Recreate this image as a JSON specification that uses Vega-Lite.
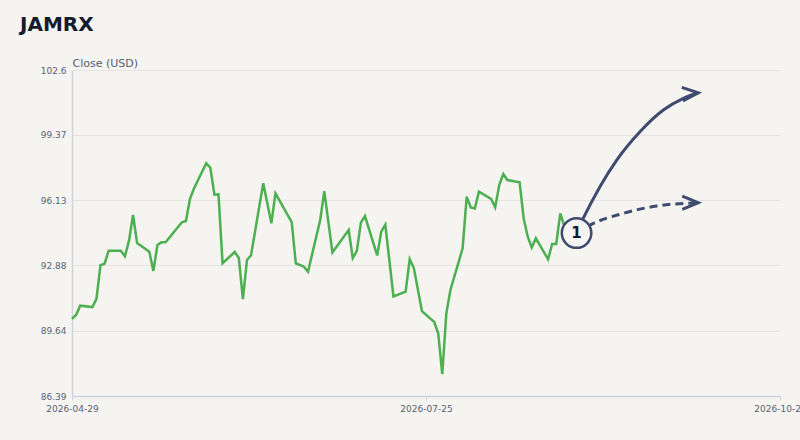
{
  "$schema": "https://vega.github.io/schema/vega-lite/v6.json",
  "width": 708,
  "height": 326,
  "autosize": {"type": "none"},
  "padding": {"left": 72, "top": 70, "right": 20, "bottom": 44},
  "background": "#f5f4f0",
  "title": {
    "text": "JAMRX",
    "anchor": "start",
    "frame": "group",
    "dx": -52,
    "offset": 22,
    "font": "DejaVu Sans",
    "fontSize": 20,
    "fontWeight": "bold",
    "color": "#141b2d"
  },
  "config": {
    "view": {"stroke": null},
    "font": "DejaVu Sans"
  },
  "datasets": {
    "prices": [
      {"date": "2026-04-29", "value": 90.22},
      {"date": "2026-04-30", "value": 90.42},
      {"date": "2026-05-01", "value": 90.88},
      {"date": "2026-05-04", "value": 90.81},
      {"date": "2026-05-05", "value": 91.21},
      {"date": "2026-05-06", "value": 92.90},
      {"date": "2026-05-07", "value": 92.97},
      {"date": "2026-05-08", "value": 93.61},
      {"date": "2026-05-11", "value": 93.61},
      {"date": "2026-05-12", "value": 93.34},
      {"date": "2026-05-13", "value": 94.10},
      {"date": "2026-05-14", "value": 95.39},
      {"date": "2026-05-15", "value": 94.00},
      {"date": "2026-05-18", "value": 93.56},
      {"date": "2026-05-19", "value": 92.61},
      {"date": "2026-05-20", "value": 93.90},
      {"date": "2026-05-21", "value": 94.03},
      {"date": "2026-05-22", "value": 94.03},
      {"date": "2026-05-26", "value": 95.03},
      {"date": "2026-05-27", "value": 95.09},
      {"date": "2026-05-28", "value": 96.19},
      {"date": "2026-05-29", "value": 96.72},
      {"date": "2026-06-01", "value": 97.96},
      {"date": "2026-06-02", "value": 97.74},
      {"date": "2026-06-03", "value": 96.40},
      {"date": "2026-06-04", "value": 96.42},
      {"date": "2026-06-05", "value": 92.99},
      {"date": "2026-06-08", "value": 93.55},
      {"date": "2026-06-09", "value": 93.25},
      {"date": "2026-06-10", "value": 91.21},
      {"date": "2026-06-11", "value": 93.15},
      {"date": "2026-06-12", "value": 93.39},
      {"date": "2026-06-15", "value": 96.97},
      {"date": "2026-06-17", "value": 94.98},
      {"date": "2026-06-18", "value": 96.47},
      {"date": "2026-06-22", "value": 95.03},
      {"date": "2026-06-23", "value": 92.99},
      {"date": "2026-06-25", "value": 92.82},
      {"date": "2026-06-26", "value": 92.57},
      {"date": "2026-06-29", "value": 95.14},
      {"date": "2026-06-30", "value": 96.58},
      {"date": "2026-07-02", "value": 93.53},
      {"date": "2026-07-06", "value": 94.64},
      {"date": "2026-07-07", "value": 93.25},
      {"date": "2026-07-08", "value": 93.60},
      {"date": "2026-07-09", "value": 95.01},
      {"date": "2026-07-10", "value": 95.34},
      {"date": "2026-07-13", "value": 93.38},
      {"date": "2026-07-14", "value": 94.56},
      {"date": "2026-07-15", "value": 94.91},
      {"date": "2026-07-17", "value": 91.34},
      {"date": "2026-07-20", "value": 91.58},
      {"date": "2026-07-21", "value": 93.19},
      {"date": "2026-07-22", "value": 92.76},
      {"date": "2026-07-24", "value": 90.61},
      {"date": "2026-07-26", "value": 90.25},
      {"date": "2026-07-27", "value": 90.08},
      {"date": "2026-07-28", "value": 89.51},
      {"date": "2026-07-29", "value": 87.48},
      {"date": "2026-07-30", "value": 90.50},
      {"date": "2026-07-31", "value": 91.66},
      {"date": "2026-08-03", "value": 93.73},
      {"date": "2026-08-04", "value": 96.30},
      {"date": "2026-08-05", "value": 95.77},
      {"date": "2026-08-06", "value": 95.72},
      {"date": "2026-08-07", "value": 96.55},
      {"date": "2026-08-10", "value": 96.19},
      {"date": "2026-08-11", "value": 95.77},
      {"date": "2026-08-12", "value": 96.88},
      {"date": "2026-08-13", "value": 97.43},
      {"date": "2026-08-14", "value": 97.13},
      {"date": "2026-08-17", "value": 97.02},
      {"date": "2026-08-18", "value": 95.23},
      {"date": "2026-08-19", "value": 94.31},
      {"date": "2026-08-20", "value": 93.78},
      {"date": "2026-08-21", "value": 94.23},
      {"date": "2026-08-24", "value": 93.19},
      {"date": "2026-08-25", "value": 93.95},
      {"date": "2026-08-26", "value": 93.95},
      {"date": "2026-08-27", "value": 95.47},
      {"date": "2026-08-28", "value": 94.84},
      {"date": "2026-08-31", "value": 94.49}
    ],
    "forecast": [
      {"path": "up", "date": "2026-08-31T00:00:00Z", "value": 94.49},
      {"path": "up", "date": "2026-09-01T16:00:00Z", "value": 95.23},
      {"path": "up", "date": "2026-09-05T18:00:00Z", "value": 96.80},
      {"path": "up", "date": "2026-09-09T21:00:00Z", "value": 98.12},
      {"path": "up", "date": "2026-09-15T14:00:00Z", "value": 99.53},
      {"path": "up", "date": "2026-09-21T08:00:00Z", "value": 100.61},
      {"path": "up", "date": "2026-09-26T06:00:00Z", "value": 101.19},
      {"path": "up", "date": "2026-09-29T22:00:00Z", "value": 101.47},
      {"path": "flat", "date": "2026-08-31T00:00:00Z", "value": 94.49},
      {"path": "flat", "date": "2026-09-03T07:00:00Z", "value": 94.89},
      {"path": "flat", "date": "2026-09-11T12:00:00Z", "value": 95.47},
      {"path": "flat", "date": "2026-09-19T17:00:00Z", "value": 95.84},
      {"path": "flat", "date": "2026-09-29T22:00:00Z", "value": 96.00}
    ],
    "heads": [
      {"date": "2026-09-29T22:00:00Z", "value": 101.47, "angle": -5},
      {"date": "2026-09-29T22:00:00Z", "value": 96.00, "angle": 0}
    ],
    "marker": [
      {"date": "2026-08-31T00:00:00Z", "value": 94.49, "label": "1"}
    ]
  },
  "encoding": {
    "x": {
      "field": "date",
      "type": "temporal",
      "title": null,
      "scale": {
        "type": "utc",
        "domain": [
          {"year": 2026, "month": 4, "date": 29, "utc": true},
          {"year": 2026, "month": 10, "date": 20, "utc": true}
        ]
      },
      "axis": {
        "values": [
          {"year": 2026, "month": 4, "date": 29, "utc": true},
          {"year": 2026, "month": 7, "date": 25, "utc": true},
          {"year": 2026, "month": 10, "date": 20, "utc": true}
        ],
        "format": "%Y-%m-%d",
        "grid": false,
        "domainColor": "#cfd3d9",
        "domainWidth": 1.5,
        "tickColor": "#cfd3d9",
        "tickSize": 4,
        "labelFontSize": 9,
        "labelColor": "#5a6275",
        "labelPadding": 4,
        "labelFlush": false,
        "labelOverlap": false
      }
    },
    "y": {
      "field": "value",
      "type": "quantitative",
      "title": "Close (USD)",
      "scale": {"domain": [86.39, 102.6], "nice": false, "zero": false},
      "axis": {
        "values": [86.39, 89.64, 92.88, 96.13, 99.37, 102.6],
        "format": ".4~r",
        "ticks": false,
        "tickSize": 0,
        "labelPadding": 6,
        "labelFontSize": 9,
        "labelColor": "#5a6275",
        "domainColor": "#cfd3d9",
        "domainWidth": 1.5,
        "gridColor": "#e4e4e2",
        "gridWidth": 1,
        "titleAngle": 0,
        "titleAlign": "left",
        "titleBaseline": "alphabetic",
        "titleX": 0,
        "titleY": -4,
        "titleFontSize": 11,
        "titleFontWeight": "normal",
        "titleColor": "#555e70"
      }
    }
  },
  "layer": [
    {
      "data": {"name": "prices"},
      "mark": {"type": "line", "color": "#4caf50", "strokeWidth": 2.5, "strokeJoin": "miter"}
    },
    {
      "data": {"name": "forecast"},
      "transform": [{"filter": "datum.path === 'up'"}],
      "mark": {"type": "line", "color": "#3f4b6e", "strokeWidth": 3, "interpolate": "monotone"}
    },
    {
      "data": {"name": "forecast"},
      "transform": [{"filter": "datum.path === 'flat'"}],
      "mark": {"type": "line", "color": "#3f4b6e", "strokeWidth": 3, "strokeDash": [8, 5], "interpolate": "monotone"}
    },
    {
      "data": {"name": "heads"},
      "mark": {
        "type": "point",
        "shape": "M-1,-0.42L0,0L-1,0.42",
        "filled": false,
        "size": 1024,
        "stroke": "#3f4b6e",
        "strokeWidth": 3,
        "opacity": 1
      },
      "encoding": {"angle": {"field": "angle", "type": "quantitative", "scale": null}}
    },
    {
      "data": {"name": "marker"},
      "mark": {
        "type": "point",
        "shape": "circle",
        "size": 870,
        "filled": true,
        "fill": "#f5f4f0",
        "stroke": "#3f4b6e",
        "strokeWidth": 2.5,
        "opacity": 1
      }
    },
    {
      "data": {"name": "marker"},
      "mark": {
        "type": "text",
        "fontSize": 15,
        "fontWeight": "bold",
        "color": "#141b2d",
        "align": "center",
        "baseline": "middle"
      },
      "encoding": {"text": {"field": "label"}}
    }
  ]
}
